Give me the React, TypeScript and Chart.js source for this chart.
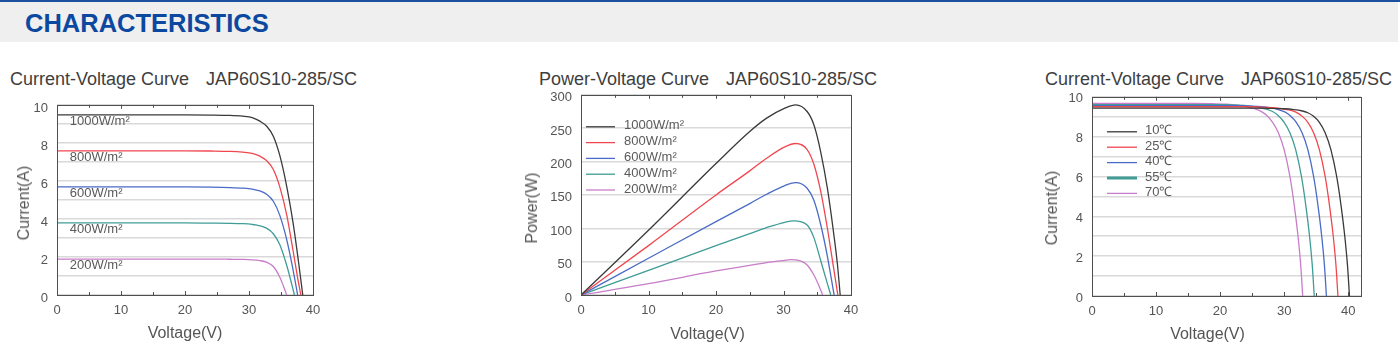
import React, { useEffect, useRef } from "react";
import { Chart, registerables } from "chart.js";

Chart.register(...registerables);

const FONT = "Arial, 'Liberation Sans', Helvetica, sans-serif";

// ---------- shared ----------
const palette = ["#3a3a3a", "#f0474f", "#4a6bc6", "#3f9c96", "#c77dc9"];
const xTickValues = [0, 10, 20, 30, 40];

// ---------- chart 1 : I-V vs irradiance ----------
const irrLabels = ["1000W/m²", "800W/m²", "600W/m²", "400W/m²", "200W/m²"];
const iv1000V = [0, 10, 20, 24, 27, 29, 30.5, 31.7, 32.8, 33.8, 34.8, 35.9, 36.9, 37.7, 38.4];
const iv1000I = [9.47, 9.47, 9.47, 9.46, 9.44, 9.4, 9.33, 9.14, 8.86, 8.35, 7.35, 5.7, 3.77, 1.84, 0];
const iv800V = [0, 10, 20, 24, 27, 29, 30.5, 31.7, 32.8, 33.8, 34.8, 35.9, 36.9, 37.6, 38.1];
const iv800I = [7.58, 7.58, 7.58, 7.57, 7.55, 7.51, 7.45, 7.3, 7.05, 6.6, 5.7, 4.2, 2.3, 0.9, 0];
const iv600V = [0, 10, 20, 24, 27, 29, 30.5, 31.7, 32.8, 33.8, 34.8, 35.9, 36.9, 37.6];
const iv600I = [5.68, 5.68, 5.68, 5.67, 5.65, 5.62, 5.57, 5.47, 5.28, 4.93, 4.2, 2.9, 1.3, 0];
const iv400V = [0, 10, 20, 24, 27, 29, 30.5, 31.7, 32.8, 33.8, 34.8, 35.9, 36.5, 37.1];
const iv400I = [3.79, 3.79, 3.79, 3.78, 3.77, 3.75, 3.71, 3.64, 3.5, 3.22, 2.65, 1.55, 0.8, 0];
const iv200V = [0, 10, 20, 24, 27, 29, 30.5, 31.7, 32.8, 33.8, 34.8, 35.4, 35.9];
const iv200I = [1.89, 1.89, 1.89, 1.89, 1.88, 1.87, 1.85, 1.81, 1.72, 1.5, 0.95, 0.45, 0];

// ---------- chart 2 : P-V vs irradiance ----------
const pv1000V = [0, 10, 20, 25, 27.5, 30.2, 31.8, 33.5, 34.5, 35.5, 36.5, 37.4, 38.0, 38.4];
const pv1000P = [0, 97, 197, 245, 265, 280, 285, 275, 255, 215, 160, 95, 45, 0];
const pv800V = [0, 10, 20, 25, 27.5, 30.2, 31.8, 33.5, 34.5, 35.5, 36.5, 37.4, 38.05];
const pv800P = [0, 74, 150, 186, 205, 222, 227, 218, 196, 156, 100, 42, 0];
const pv600V = [0, 10, 20, 25, 27.5, 30.2, 31.8, 33.5, 34.5, 35.5, 36.5, 37.5];
const pv600P = [0, 55, 110, 137, 151, 164, 168.5, 160, 142, 106, 58, 0];
const pv400V = [0, 10, 20, 25, 27.5, 30.2, 31.5, 33.5, 34.5, 35.5, 36.5, 37.0];
const pv400P = [0, 37, 74, 92, 101, 109, 111, 105, 86, 52, 17, 0];
const pv200V = [0, 10, 20, 25, 27.5, 30.2, 31.0, 32.5, 33.5, 34.5, 35.2, 35.8];
const pv200P = [0, 17, 36, 44.5, 48.5, 52, 53, 51, 45, 30, 15, 0];

// ---------- chart 3 : I-V vs temperature ----------
const tempLabels = ["10℃", "25℃", "40℃", "55℃", "70℃"];
const t10V = [0, 10, 20, 25, 28, 30, 31.5, 32.7, 33.7, 34.6, 35.5, 36.4, 37.3, 38.2, 38.9, 39.5, 39.9, 40.2];
const t10I = [9.43, 9.43, 9.43, 9.43, 9.42, 9.4, 9.36, 9.3, 9.2, 9.02, 8.72, 8.2, 7.35, 6.0, 4.5, 2.9, 1.5, 0];
const t25V = [0, 10, 20, 24, 26.5, 28.2, 29.7, 30.9, 31.9, 32.8, 33.7, 34.6, 35.5, 36.4, 37.1, 37.7, 38.1, 38.4];
const t25I = [9.5, 9.5, 9.5, 9.5, 9.48, 9.45, 9.4, 9.33, 9.22, 9.03, 8.72, 8.2, 7.35, 6.0, 4.5, 2.9, 1.5, 0];
const t40V = [0, 10, 20, 22.5, 24.7, 26.4, 27.9, 29.1, 30.1, 31.0, 31.9, 32.8, 33.7, 34.6, 35.3, 35.9, 36.3, 36.6];
const t40I = [9.55, 9.55, 9.55, 9.55, 9.53, 9.5, 9.44, 9.36, 9.24, 9.04, 8.72, 8.2, 7.35, 6.0, 4.5, 2.9, 1.5, 0];
const t55V = [0, 10, 18, 20.5, 22.8, 24.5, 26.0, 27.2, 28.2, 29.1, 30.0, 30.9, 31.8, 32.7, 33.4, 34.0, 34.4, 34.7];
const t55I = [9.6, 9.6, 9.6, 9.6, 9.58, 9.54, 9.47, 9.38, 9.26, 9.05, 8.72, 8.2, 7.35, 6.0, 4.5, 2.9, 1.5, 0];
const t70V = [0, 10, 16, 18.7, 21, 22.7, 24.2, 25.4, 26.4, 27.3, 28.2, 29.1, 30.0, 30.9, 31.6, 32.2, 32.6, 32.9];
const t70I = [9.67, 9.67, 9.67, 9.66, 9.63, 9.58, 9.5, 9.4, 9.27, 9.06, 8.72, 8.2, 7.35, 6.0, 4.5, 2.9, 1.5, 0];

const pts = (xs: number[], ys: number[]) => xs.map((x, i) => ({ x, y: ys[i] }));

const overlayPlugin = {
  id: "overlay",
  afterDraw(chart: any, _args: any, opts: any) {
    const { ctx, chartArea: a, scales } = chart;
    const xs = scales.x;
    const ys = scales.y;
    ctx.save();
    ctx.strokeStyle = "#4f4f4f";
    ctx.lineWidth = 1;
    ctx.beginPath();
    for (let v = 5; v < xs.max; v += 5) {
      const px = Math.round(xs.getPixelForValue(v)) + 0.5;
      const len = v % 10 === 0 ? 4 : 3;
      ctx.moveTo(px, a.bottom);
      ctx.lineTo(px, a.bottom - len);
      ctx.moveTo(px, a.top);
      ctx.lineTo(px, a.top + len);
    }
    ctx.stroke();
    ctx.strokeRect(
      Math.round(a.left) + 0.5,
      Math.round(a.top) + 0.5,
      Math.round(a.right - a.left),
      Math.round(a.bottom - a.top)
    );
    ctx.font = `13px ${FONT}`;
    ctx.fillStyle = "#5a5a5a";
    ctx.textBaseline = "middle";
    ctx.textAlign = "left";
    if (opts.legend) {
      const L = opts.legend;
      chart.data.datasets.forEach((ds: any, i: number) => {
        const y = a.top + L.top + i * L.row;
        ctx.strokeStyle = ds.borderColor;
        ctx.lineWidth = L.widths ? L.widths[i] : 1.3;
        ctx.beginPath();
        ctx.moveTo(a.left + L.lineX0, y);
        ctx.lineTo(a.left + L.lineX1, y);
        ctx.stroke();
        ctx.fillText(ds.label, a.left + L.textX, y - 1);
      });
    }
    if (opts.curveLabels) {
      const C = opts.curveLabels;
      chart.data.datasets.forEach((ds: any) => {
        const first = ds.data[0];
        const px = xs.getPixelForValue(C.x);
        const py = ys.getPixelForValue(first.y - C.dy);
        ctx.fillText(ds.label, px, py);
      });
    }
    ctx.restore();
  },
};

type Cfg = {
  series: { label: string; data: { x: number; y: number }[] }[];
  xMax: number;
  yMax: number;
  yStep: number;
  yLabelEvery: number;
  yLabelOffset: number;
  yW: number;
  padRight: number;
  xH: number;
  overlay: any;
};

function makeConfig(c: Cfg): any {
  return {
    type: "line",
    data: {
      datasets: c.series.map((s, i) => ({
        label: s.label,
        data: s.data,
        borderColor: palette[i],
        backgroundColor: palette[i],
        borderWidth: 1.3,
        pointRadius: 0,
        fill: false,
        cubicInterpolationMode: "monotone",
      })),
    },
    options: {
      responsive: false,
      animation: false,
      events: [],
      layout: { padding: { left: 0, top: 0, right: c.padRight, bottom: 0 } },
      plugins: {
        legend: { display: false },
        tooltip: { enabled: false },
        title: { display: false },
        overlay: c.overlay,
      },
      scales: {
        x: {
          type: "linear",
          min: 0,
          max: c.xMax,
          afterBuildTicks: (s: any) => {
            s.ticks = xTickValues.map((v) => ({ value: v }));
          },
          ticks: {
            color: "#555",
            font: { family: FONT, size: 13 },
            padding: 8,
            maxRotation: 0,
            autoSkip: false,
          },
          grid: { display: false, drawTicks: false },
          border: { display: false },
          afterFit: (s: any) => {
            s.height = c.xH;
          },
        },
        y: {
          type: "linear",
          min: 0,
          max: c.yMax,
          ticks: {
            stepSize: c.yStep,
            autoSkip: false,
            color: "#555",
            font: { family: FONT, size: 13 },
            padding: 9,
            labelOffset: c.yLabelOffset,
            callback: (v: any) => (Number(v) % c.yLabelEvery === 0 ? String(v) : ""),
          },
          grid: { color: "#d9d9d9", lineWidth: 1.5, drawTicks: false },
          border: { display: false },
          afterFit: (s: any) => {
            s.width = c.yW;
          },
        },
      },
    },
    plugins: [overlayPlugin],
  };
}

function PlotCanvas(props: { left: number; top: number; width: number; height: number; cfg: Cfg }) {
  const ref = useRef<HTMLCanvasElement | null>(null);
  useEffect(() => {
    const chart = new Chart(ref.current as HTMLCanvasElement, makeConfig(props.cfg));
    return () => chart.destroy();
  }, []);
  const { left, top, width, height } = props;
  return (
    <div style={{ position: "absolute", left, top, width, height }}>
      <canvas ref={ref} width={width} height={height} style={{ display: "block", width, height }} />
    </div>
  );
}

const chart1: Cfg = {
  series: [
    { label: irrLabels[0], data: pts(iv1000V, iv1000I) },
    { label: irrLabels[1], data: pts(iv800V, iv800I) },
    { label: irrLabels[2], data: pts(iv600V, iv600I) },
    { label: irrLabels[3], data: pts(iv400V, iv400I) },
    { label: irrLabels[4], data: pts(iv200V, iv200I) },
  ],
  xMax: 40,
  yMax: 10,
  yStep: 1,
  yLabelEvery: 2,
  yLabelOffset: 3.5,
  yW: 57,
  padRight: 17,
  xH: 30,
  overlay: { curveLabels: { x: 2, dy: 0.34 } },
};

const chart2: Cfg = {
  series: [
    { label: irrLabels[0], data: pts(pv1000V, pv1000P) },
    { label: irrLabels[1], data: pts(pv800V, pv800P) },
    { label: irrLabels[2], data: pts(pv600V, pv600P) },
    { label: irrLabels[3], data: pts(pv400V, pv400P) },
    { label: irrLabels[4], data: pts(pv200V, pv200P) },
  ],
  xMax: 40,
  yMax: 300,
  yStep: 50,
  yLabelEvery: 50,
  yLabelOffset: 3,
  yW: 61,
  padRight: 19,
  xH: 30,
  overlay: { legend: { top: 32, row: 15.8, lineX0: 5, lineX1: 34, textX: 43 } },
};

const chart3: Cfg = {
  series: [
    { label: tempLabels[0], data: pts(t10V, t10I) },
    { label: tempLabels[1], data: pts(t25V, t25I) },
    { label: tempLabels[2], data: pts(t40V, t40I) },
    { label: tempLabels[3], data: pts(t55V, t55I) },
    { label: tempLabels[4], data: pts(t70V, t70I) },
  ],
  xMax: 42,
  yMax: 10,
  yStep: 1,
  yLabelEvery: 2,
  yLabelOffset: 2,
  yW: 52,
  padRight: 19,
  xH: 30,
  overlay: {
    legend: { top: 35, row: 15.4, lineX0: 15, lineX1: 45, textX: 53, widths: [1.3, 1.3, 1.3, 3, 1.3] },
  },
};

const textBase: React.CSSProperties = {
  position: "absolute",
  fontFamily: FONT,
  whiteSpace: "nowrap",
};

function Title(props: { x1: number; x2: number; a: string; b: string }) {
  const st: React.CSSProperties = { ...textBase, top: 69.8, fontSize: 18, lineHeight: "18px", color: "#3e3e3e" };
  return (
    <>
      <div style={{ ...st, left: props.x1 }}>{props.a}</div>
      <div style={{ ...st, left: props.x2 }}>{props.b}</div>
    </>
  );
}

function AxisTitle(props: { cx: number; cy: number; text: string; rotate?: boolean }) {
  return (
    <div
      style={{
        ...textBase,
        left: props.cx,
        top: props.cy,
        fontSize: 16,
        lineHeight: "16px",
        color: "#555",
        transform: `translate(-50%, -50%)${props.rotate ? " rotate(-90deg)" : ""}`,
      }}
    >
      {props.text}
    </div>
  );
}

export default function App() {
  return (
    <div
      style={{
        position: "absolute",
        left: 0,
        top: 0,
        width: 1400,
        height: 351,
        background: "#fff",
        overflow: "hidden",
      }}
    >
      <div style={{ position: "absolute", left: 0, top: 0, width: 1400, height: 2, background: "#1c4f9f" }} />
      <div style={{ position: "absolute", left: 0, top: 2, width: 1398, height: 40, background: "#efefef" }} />
      <div
        style={{
          position: "absolute",
          left: 25,
          top: 9.8,
          fontFamily: FONT,
          fontWeight: 700,
          fontSize: 25.5,
          lineHeight: "26px",
          color: "#0c48a0",
          whiteSpace: "nowrap",
        }}
      >
        CHARACTERISTICS
      </div>

      <Title x1={10} x2={206} a="Current-Voltage Curve" b="JAP60S10-285/SC" />
      <Title x1={539} x2={726} a="Power-Voltage Curve" b="JAP60S10-285/SC" />
      <Title x1={1045} x2={1241} a="Current-Voltage Curve" b="JAP60S10-285/SC" />

      <PlotCanvas left={0} top={88} width={330} height={237} cfg={chart1} />
      <PlotCanvas left={520} top={78} width={350} height={247} cfg={chart2} />
      <PlotCanvas left={1040} top={80} width={340} height={246} cfg={chart3} />

      <AxisTitle cx={24} cy={203} text="Current(A)" rotate />
      <AxisTitle cx={185} cy={333} text="Voltage(V)" />
      <AxisTitle cx={531.5} cy={207.5} text="Power(W)" rotate />
      <AxisTitle cx={707.5} cy={334} text="Voltage(V)" />
      <AxisTitle cx={1052} cy={207.5} text="Current(A)" rotate />
      <AxisTitle cx={1207.5} cy={334} text="Voltage(V)" />
    </div>
  );
}
